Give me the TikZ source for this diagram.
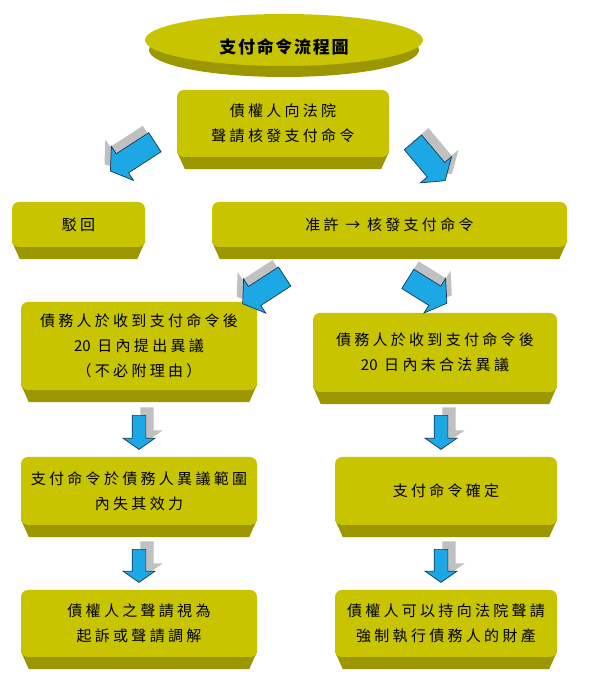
\documentclass[tikz,border=0pt]{standalone}
\usepackage{fontspec}
\newfontfamily\cjk[LetterSpace=22]{Noto Sans CJK TC}
\newfontfamily\cjkplain{Noto Sans CJK TC}
\newfontfamily\cjktitle[LetterSpace=10]{Noto Sans CJK TC}
\usetikzlibrary{shapes.geometric,shapes.arrows,backgrounds}
\definecolor{face}{RGB}{200,196,0}
\definecolor{band}{RGB}{156,151,0}
\definecolor{arrowblue}{RGB}{28,168,228}
\definecolor{arrowline}{RGB}{22,54,92}
\definecolor{shade}{RGB}{192,192,192}
\begin{document}
\begin{tikzpicture}[x=1pt,y=1pt,
    plate/.style={fill=face,rounded corners=7pt,inner sep=0pt,align=center,
      font=\cjk\fontsize{15}{25}\selectfont},
    blockarrow/.style={single arrow,inner xsep=0pt,single arrow head extend=9pt,
      single arrow tip angle=110}]
  \useasboundingbox (0,0) rectangle (607,690);
  \node[ellipse,fill=face,minimum width=278,minimum height=52,inner sep=0pt]
    (titlebg) at (284,650) {};
  \node[font=\cjktitle\bfseries\fontsize{17}{19}\selectfont] (title) at (284,643) {支付命令流程圖};
  \node[plate,minimum width=212,minimum height=67] (req) at (283,566.5)
    {債權人向法院\\聲請核發支付命令};
  \node[plate,minimum width=133,minimum height=45] (reject) at (78.5,465.5) {駁回};
  \node[plate,minimum width=355,minimum height=45] (grant) at (389.5,465.5)
    {准許 → 核發支付命令};
  \node[plate,minimum width=236,minimum height=88] (objected) at (139,344)
    {債務人於收到支付命令後\\{\cjkplain 20} 日內提出異議\\（不必附理由）};
  \node[plate,minimum width=244,minimum height=79] (noobj) at (435,337.5)
    {債務人於收到支付命令後\\{\cjkplain 20} 日內未合法異議};
  \node[plate,minimum width=236,minimum height=68] (lapse) at (139,199)
    {支付命令於債務人異議範圍\\內失其效力};
  \node[plate,minimum width=222,minimum height=68] (final) at (446,199)
    {支付命令確定};
  \node[plate,minimum width=236,minimum height=67] (suit) at (139,66.5)
    {債權人之聲請視為\\起訴或聲請調解};
  \node[plate,minimum width=222,minimum height=67] (enforce) at (446,66.5)
    {債權人可以持向法院聲請\\強制執行債務人的財產};
  \foreach \n/\x/\y/\a/\len/\sw/\dx/\dy in {
      toreject/136/535.5/213/53/11/-6/7,
      togrant/426.5/531.5/-50/50/11/7/7,
      toobjected/267/402/213/50/11/-6/7,
      tonoobj/424/401/-32/46/11/5/8,
      tolapse/139/260/-90/34/6.5/8/8,
      tofinal/441/260/-90/34/6.5/8/8,
      tosuit/139/126.5/-90/33/6.5/8/8,
      toenforce/441/126.5/-90/33/6.5/8/8} {
    \node[blockarrow,fill=shade,inner ysep=\sw,minimum height=\len,rotate=\a]
      at ({\x+\dx},{\y+\dy}) {};
    \node[blockarrow,fill=arrowblue,draw=arrowline,line width=0.7pt,
      inner ysep=\sw,minimum height=\len,rotate=\a] (\n) at (\x,\y) {};
  }
  \begin{scope}[on background layer]
    \fill[white] (0,0) rectangle (607,690);
    \fill[band] ([yshift=-10]titlebg.center) ellipse [x radius=135,y radius=27];
    \foreach \n in {req,reject,grant,objected,noobj,lapse,final,suit,enforce}
      \fill[band] ([yshift=6]\n.south west) -- ([yshift=6]\n.south east)
        -- ([xshift=-8,yshift=-12]\n.south east)
        -- ([xshift=8,yshift=-12]\n.south west) -- cycle;
  \end{scope}
\end{tikzpicture}
\end{document}
